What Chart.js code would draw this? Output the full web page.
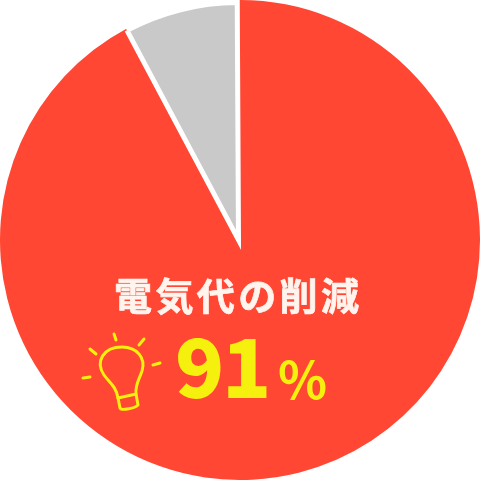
<!DOCTYPE html>
<html><head><meta charset="utf-8">
<style>html,body{margin:0;padding:0;background:#fff}#w{position:relative;width:480px;height:480px}canvas{display:block}
svg{position:absolute;left:0;top:0}</style>
<script src="https://cdn.jsdelivr.net/npm/chart.js@4"></script></head>
<body><div id="w"><canvas id="c" width="480" height="480"></canvas>
<svg width="480" height="480" fill="none" stroke="#f6f00f" stroke-width="3" stroke-linecap="round" stroke-linejoin="round">
<path d="M118 398 C116 386 109 382 104 375 C95 362 103 347 122 347 C137 347 146 358 142 371 C139 380 135 385 136 394 Z"/>
<path d="M118 398 L120 408 C121 411 136 408 138 405 L136 394"/>
<path d="M114 334 L116 340 M144 339 L139 345 M90 349 L96 354 M83 378 L90 377 M153 365 L160 363"/>
</svg></div>
<script>
const categories=['電気代の削減','その他'];
const seriesValues=[92.3,7.7];
const sliceColors=['#ff4733','#c9c9c9'];
const headline='電気代の削減';
const bigNumber='91';
const unit='%';
Chart.defaults.animation=false;
const labelPlugin={id:'labels',
 afterDatasetsUpdate(chart){const d=chart.getDatasetMeta(0).data;d[0].outerRadius=240;d[1].outerRadius=237.5;d[1].x-=1.5;},
 afterDraw(chart){
 const g=chart.ctx;g.save();g.textBaseline='alphabetic';g.textAlign='left';
 g.fillStyle='#fff5ee';g.strokeStyle='#fff5ee';g.lineWidth=0.7;g.font='700 38px "Noto Sans CJK JP"';
 [...headline].forEach((ch,i)=>{g.fillText(ch,114+i*41.4,310);g.strokeText(ch,114+i*41.4,310);});
 g.fillStyle='#f6f00f';g.font='900 81px "Noto Sans CJK JP"';
 g.fillText(bigNumber[0],175,398);g.fillText(bigNumber[1],222,398);
 g.font='700 51px "Noto Sans CJK JP"';g.fillText(unit,278,399);
 g.restore();}};
new Chart(document.getElementById('c'),{type:'pie',
 data:{labels:categories,datasets:[{data:seriesValues,backgroundColor:sliceColors,
  borderColor:['rgba(0,0,0,0)','#ffffff'],borderWidth:[0,5],borderJoinStyle:'miter'}]},
 options:{responsive:false,rotation:-0.3,layout:{padding:0},plugins:{legend:{display:false},tooltip:{enabled:false}}},
 plugins:[labelPlugin]});
</script></body></html>
